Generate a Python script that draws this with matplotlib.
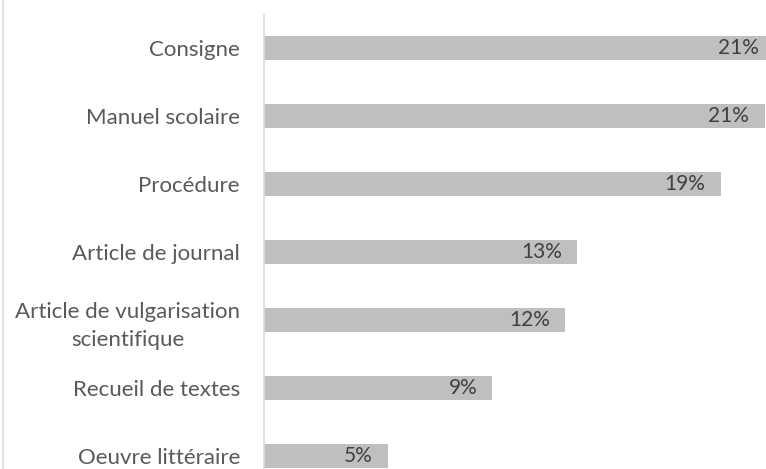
import matplotlib
matplotlib.use("Agg")
import matplotlib.pyplot as plt
from matplotlib.lines import Line2D

categories = ["Consigne", "Manuel scolaire", "Procédure", "Article de journal",
              "Article de vulgarisation\nscientifique", "Recueil de textes", "Oeuvre littéraire"]
values = [21.0, 20.6, 18.8, 12.9, 12.4, 9.4, 5.1]

W, H = 766, 469
fig = plt.figure(figsize=(W / 100, H / 100), dpi=100)
plt.rcParams['font.family'] = ['Lato', 'DejaVu Sans']

left = 264 / W
top = 14 / H
ax = fig.add_axes([left, 0, 1 - left, 1 - top])

y = list(range(len(categories)))
ax.barh(y, values, height=0.35, color="#bfbfbf", zorder=2)
ax.set_xlim(0, 502 / 24.3)
ax.set_ylim(6.19, -0.5)

for yi, v in zip(y, values):
    ax.annotate(f"{round(v):d}%", xy=(v, yi), xytext=(-11, 0), textcoords="offset points",
                ha="right", va="center", fontsize=15, color="#404040",
                annotation_clip=False)

ax.set_yticks(y)
ax.set_yticklabels(categories, fontsize=16, color="#595959",
                   multialignment="center", linespacing=1.5)
ax.tick_params(axis="y", length=0, pad=24 * 0.72)
ax.set_xticks([])
for s in ["top", "right", "bottom"]:
    ax.spines[s].set_visible(False)
ax.spines["left"].set_color("#d9d9d9")
ax.spines["left"].set_linewidth(1.2)

fig.add_artist(Line2D([2.5 / W, 2.5 / W], [0, 1], color="#d9d9d9", lw=1.2))

fig.savefig("out.png", dpi=100)
